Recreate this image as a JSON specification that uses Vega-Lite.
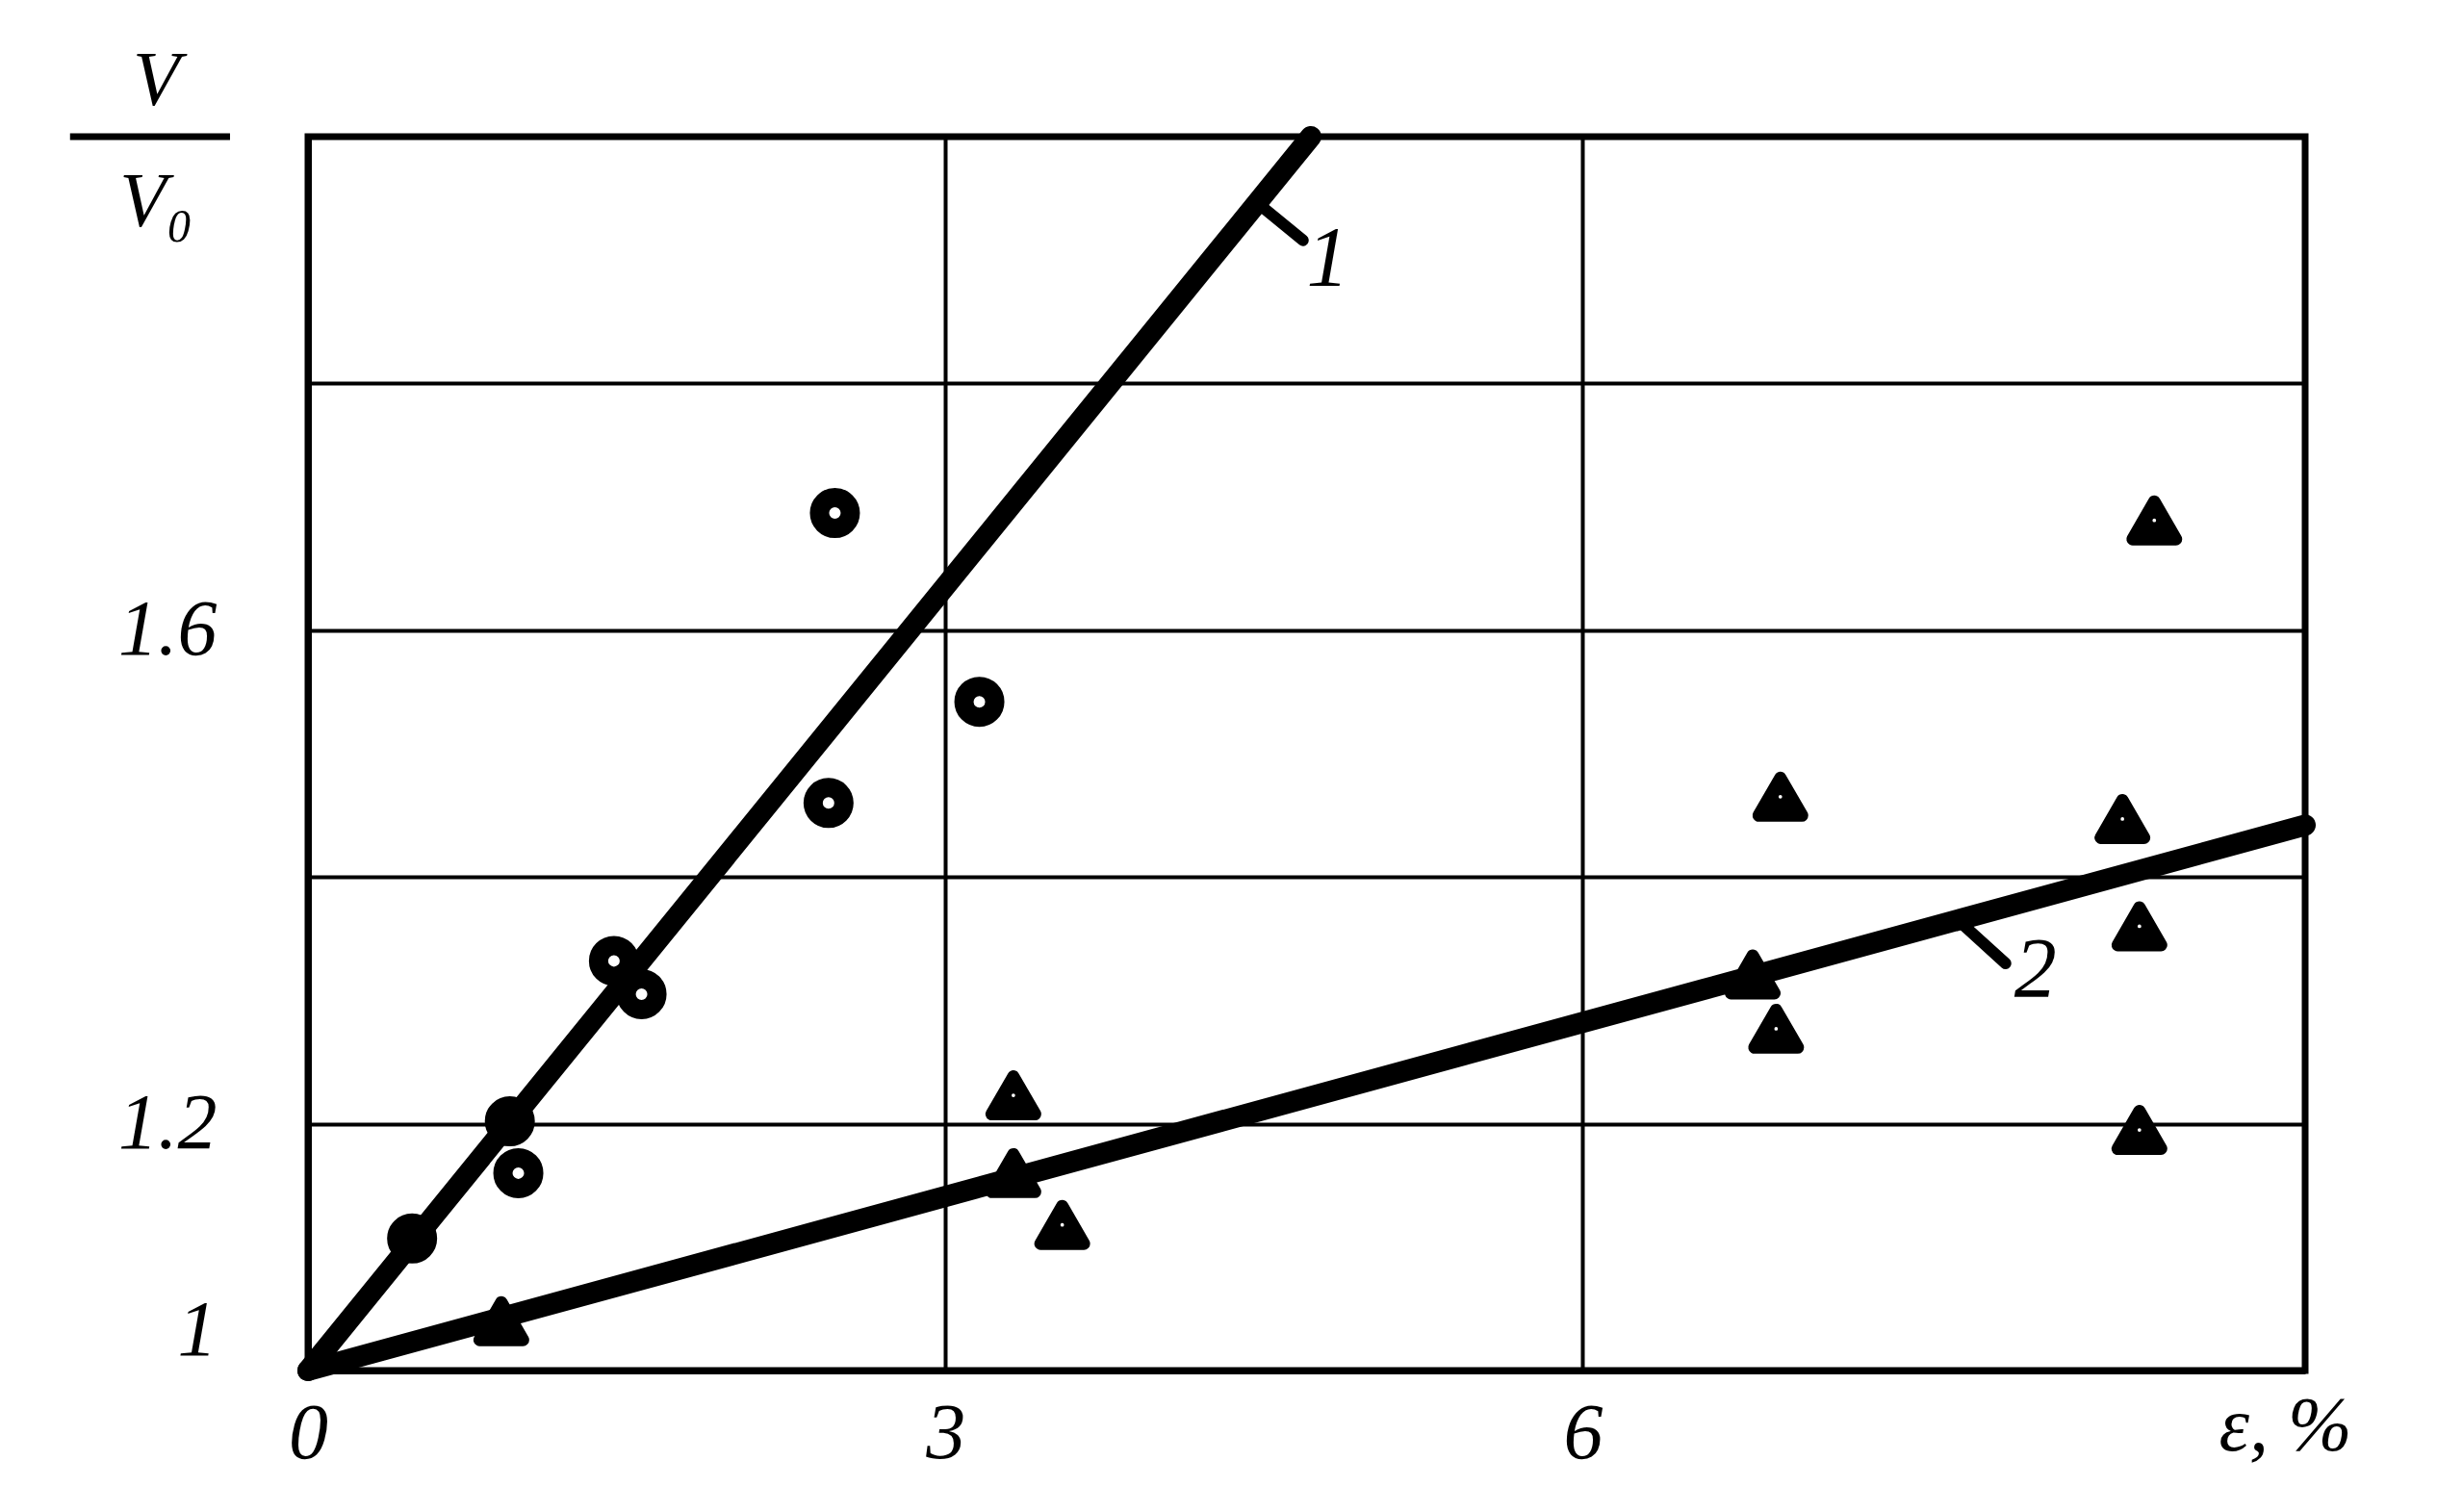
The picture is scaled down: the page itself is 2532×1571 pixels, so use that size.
{
  "$schema": "https://vega.github.io/schema/vega-lite/v6.json",
  "width": 2075,
  "height": 1282,
  "autosize": "none",
  "padding": {"left": 320, "top": 142, "right": 137, "bottom": 147},
  "background": "white",
  "config": {
    "view": {"stroke": "black", "strokeWidth": 7},
    "axis": {
      "domainColor": "black",
      "domainWidth": 7,
      "ticks": false,
      "grid": true,
      "gridColor": "black",
      "gridWidth": 4,
      "gridOpacity": 1,
      "labelFont": "Liberation Serif",
      "labelFontStyle": "italic",
      "labelFontSize": 82,
      "labelColor": "black",
      "titleFont": "Liberation Serif",
      "titleFontStyle": "italic",
      "titleFontWeight": "normal",
      "titleFontSize": 80,
      "titleColor": "black"
    }
  },
  "datasets": {
    "points": [
      {"series": "1", "x": 0.49, "y": 1.107},
      {"series": "1", "x": 0.95, "y": 1.202},
      {"series": "1", "x": 0.99, "y": 1.160},
      {"series": "1", "x": 1.44, "y": 1.332},
      {"series": "1", "x": 1.57, "y": 1.305},
      {"series": "1", "x": 2.45, "y": 1.460},
      {"series": "1", "x": 2.48, "y": 1.695},
      {"series": "1", "x": 3.16, "y": 1.542},
      {"series": "2", "x": 0.91, "y": 1.040},
      {"series": "2", "x": 3.32, "y": 1.223},
      {"series": "2", "x": 3.32, "y": 1.160},
      {"series": "2", "x": 3.55, "y": 1.118},
      {"series": "2", "x": 6.80, "y": 1.321},
      {"series": "2", "x": 6.93, "y": 1.465},
      {"series": "2", "x": 6.91, "y": 1.277},
      {"series": "2", "x": 8.54, "y": 1.447},
      {"series": "2", "x": 8.62, "y": 1.360},
      {"series": "2", "x": 8.69, "y": 1.689},
      {"series": "2", "x": 8.62, "y": 1.195}
    ],
    "lines": [
      {"line": "1", "x": 0, "y": 1.0},
      {"line": "1", "x": 4.72, "y": 2.0},
      {"line": "2", "x": 0, "y": 1.0},
      {"line": "2", "x": 9.4, "y": 1.442}
    ],
    "leaders": [
      {"line": "1", "x": 4.463, "y": 1.947},
      {"line": "1", "x": 4.683, "y": 1.916},
      {"line": "2", "x": 7.785, "y": 1.362},
      {"line": "2", "x": 7.99, "y": 1.330}
    ],
    "labels": [
      {"label": "1", "x": 4.80, "y": 1.900},
      {"label": "2", "x": 8.13, "y": 1.324}
    ],
    "fractionbar": [
      {"part": "bar", "x": -1.12, "y": 2.0},
      {"part": "bar", "x": -0.367, "y": 2.0}
    ]
  },
  "encoding": {
    "x": {
      "field": "x",
      "type": "quantitative",
      "scale": {"domain": [0, 9.4], "nice": false, "zero": false},
      "axis": {
        "values": [0, 3, 6],
        "labelPadding": 25,
        "labelFlush": false,
        "title": "ε, %",
        "titleX": 2054,
        "titleY": 82,
        "titleAlign": "center",
        "titleBaseline": "alphabetic"
      }
    },
    "y": {
      "field": "y",
      "type": "quantitative",
      "scale": {"domain": [1, 2], "nice": false, "zero": false},
      "axis": {
        "values": [1, 1.2, 1.4, 1.6, 1.8, 2],
        "labelExpr": "abs(datum.value-1)<0.01 ? '1' : abs(datum.value-1.2)<0.01 ? '1.2' : abs(datum.value-1.6)<0.01 ? '1.6' : ''",
        "labelPadding": 95,
        "labelFlush": true,
        "title": ["V", "V₀"],
        "titleAngle": 0,
        "titleX": -158,
        "titleY": -34,
        "titleAlign": "center",
        "titleBaseline": "alphabetic",
        "titleLineHeight": 126
      }
    }
  },
  "layer": [
    {
      "data": {"name": "points"},
      "transform": [{"filter": "datum.series == '1'"}],
      "mark": {"type": "point", "shape": "circle", "filled": false, "stroke": "black", "strokeWidth": 20, "size": 1024, "opacity": 1}
    },
    {
      "data": {"name": "points"},
      "transform": [{"filter": "datum.series == '2'"}],
      "mark": {"type": "point", "shape": "triangle-up", "filled": true, "fill": "black", "stroke": "black", "strokeWidth": 13, "strokeJoin": "round", "size": 2025, "opacity": 1}
    },
    {
      "data": {"name": "points"},
      "transform": [{"filter": "datum.series == '2'"}],
      "mark": {"type": "point", "shape": "circle", "filled": true, "fill": "white", "strokeWidth": 0, "size": 14, "opacity": 1}
    },
    {
      "data": {"name": "lines"},
      "mark": {"type": "line", "color": "black", "strokeWidth": 22, "strokeCap": "round"},
      "encoding": {"detail": {"field": "line"}}
    },
    {
      "data": {"name": "leaders"},
      "mark": {"type": "line", "color": "black", "strokeWidth": 12, "strokeCap": "round"},
      "encoding": {"detail": {"field": "line"}}
    },
    {
      "data": {"name": "labels"},
      "mark": {"type": "text", "font": "Liberation Serif", "fontStyle": "italic", "fontSize": 88, "color": "black", "align": "center", "baseline": "middle"},
      "encoding": {"text": {"field": "label"}}
    },
    {
      "data": {"name": "fractionbar"},
      "mark": {"type": "line", "color": "black", "strokeWidth": 7, "clip": false},
      "encoding": {"detail": {"field": "part"}}
    }
  ]
}
